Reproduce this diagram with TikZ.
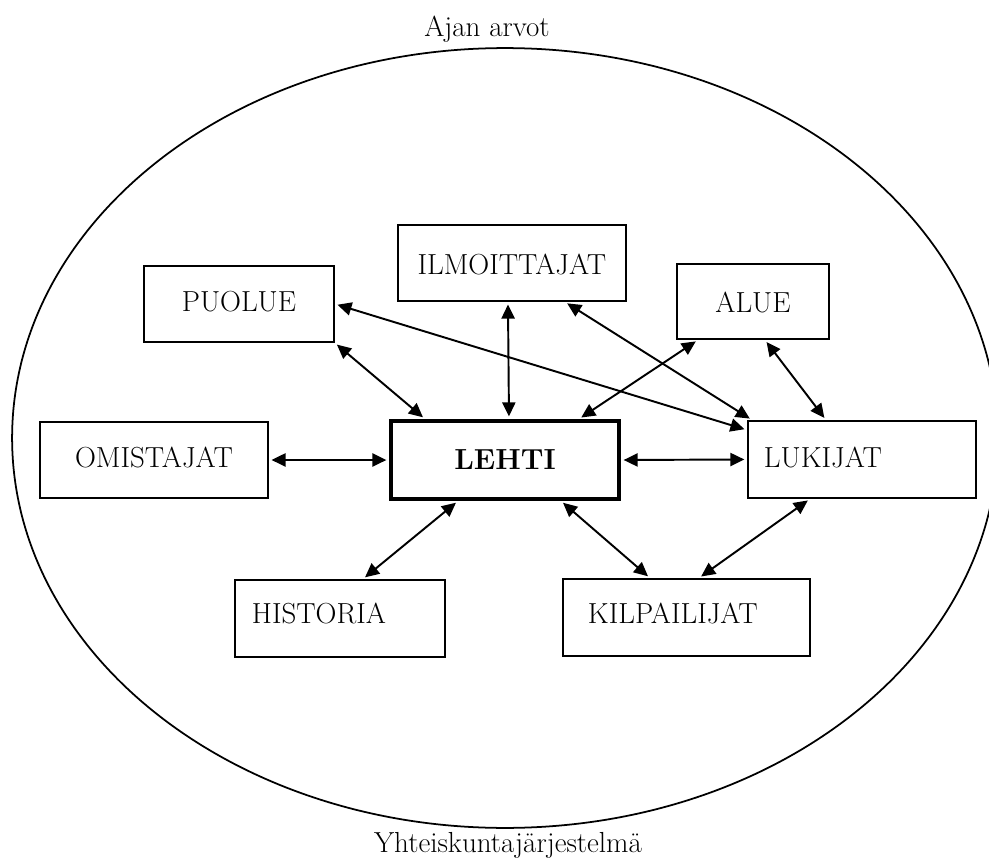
\documentclass[tikz,border=0pt]{standalone}
\usepackage{tikz}
\usetikzlibrary{arrows.meta, positioning}

\tikzset{
  laatikko/.style={draw, line width=1.1pt, anchor=north west, inner xsep=0pt, inner ysep=0pt, align=center},
  nuoli/.style={{Triangle[length=8pt,width=7.5pt]}-{Triangle[length=8pt,width=7.5pt]}, line width=1.1pt, shorten <=1.5pt, shorten >=1.5pt},
}

\begin{document}
\begin{tikzpicture}[x=0.02cm, y=-0.02cm, font=\fontsize{16.5}{20}\selectfont]
\useasboundingbox (0,0) rectangle (989,861);

% outer ellipse and its captions
\draw[line width=1pt] (505,438) ellipse (9.86cm and 7.8cm);
\node[anchor=base] (ajan) at (487,37) {Ajan arvot};
\node[anchor=base] (yhteiskunta) at (508,852) {Yhteiskuntajärjestelmä};

% boxes
\node[laatikko, text width=3.8cm, text height=0.92cm, text depth=0.6cm] (puolue) at (143,265) {PUOLUE};
\node[laatikko, text width=4.56cm, text height=1.0cm, text depth=0.52cm] (ilmoittajat) at (397,224) {ILMOITTAJAT};
\node[laatikko, text width=3.04cm, text height=0.98cm, text depth=0.52cm] (alue) at (676,263) {ALUE};
\node[laatikko, text width=4.56cm, text height=0.92cm, text depth=0.6cm] (omistajat) at (39,421) {OMISTAJAT};
\node[laatikko, line width=2.3pt, text width=4.56cm, text height=0.96cm, text depth=0.6cm] (lehti) at (389,419) {\textbf{LEHTI}};
\node[laatikko, align=left, inner xsep=0.32cm, text width=3.92cm, text height=0.94cm, text depth=0.6cm] (lukijat) at (747,420) {LUKIJAT};
\node[laatikko, align=left, inner xsep=0.34cm, text width=3.52cm, text height=0.88cm, text depth=0.66cm] (historia) at (234,579) {HISTORIA};
\node[laatikko, align=left, inner xsep=0.5cm, text width=3.94cm, text height=0.9cm, text depth=0.64cm] (kilpailijat) at (562,578) {KILPAILIJAT};

% connections
\draw[nuoli] (omistajat.east) -- (lehti.west);
\draw[nuoli] (lehti.east) -- (lukijat.west);
\draw[nuoli] (puolue.south east) -- ([xshift=0.72cm]lehti.north west);
\draw[nuoli] ([xshift=-0.08cm]ilmoittajat.south) -- ([xshift=0.08cm]lehti.north);
\draw[nuoli] ([xshift=0.44cm]alue.south west) -- ([xshift=-0.84cm]lehti.north east);
\draw[nuoli] (puolue.east) -- ([yshift=-0.2cm]lukijat.north west);
\draw[nuoli] ([xshift=-1.24cm]ilmoittajat.south east) -- ([xshift=0.1cm]lukijat.north west);
\draw[nuoli] ([xshift=-1.3cm]alue.south east) -- ([xshift=1.58cm]lukijat.north west);
\draw[nuoli] ([xshift=1.38cm]lehti.south west) -- ([xshift=2.58cm]historia.north west);
\draw[nuoli] ([xshift=-1.2cm]lehti.south east) -- ([xshift=1.76cm]kilpailijat.north west);
\draw[nuoli] ([xshift=1.26cm]lukijat.south west) -- ([xshift=2.74cm]kilpailijat.north west);
\end{tikzpicture}
\end{document}
